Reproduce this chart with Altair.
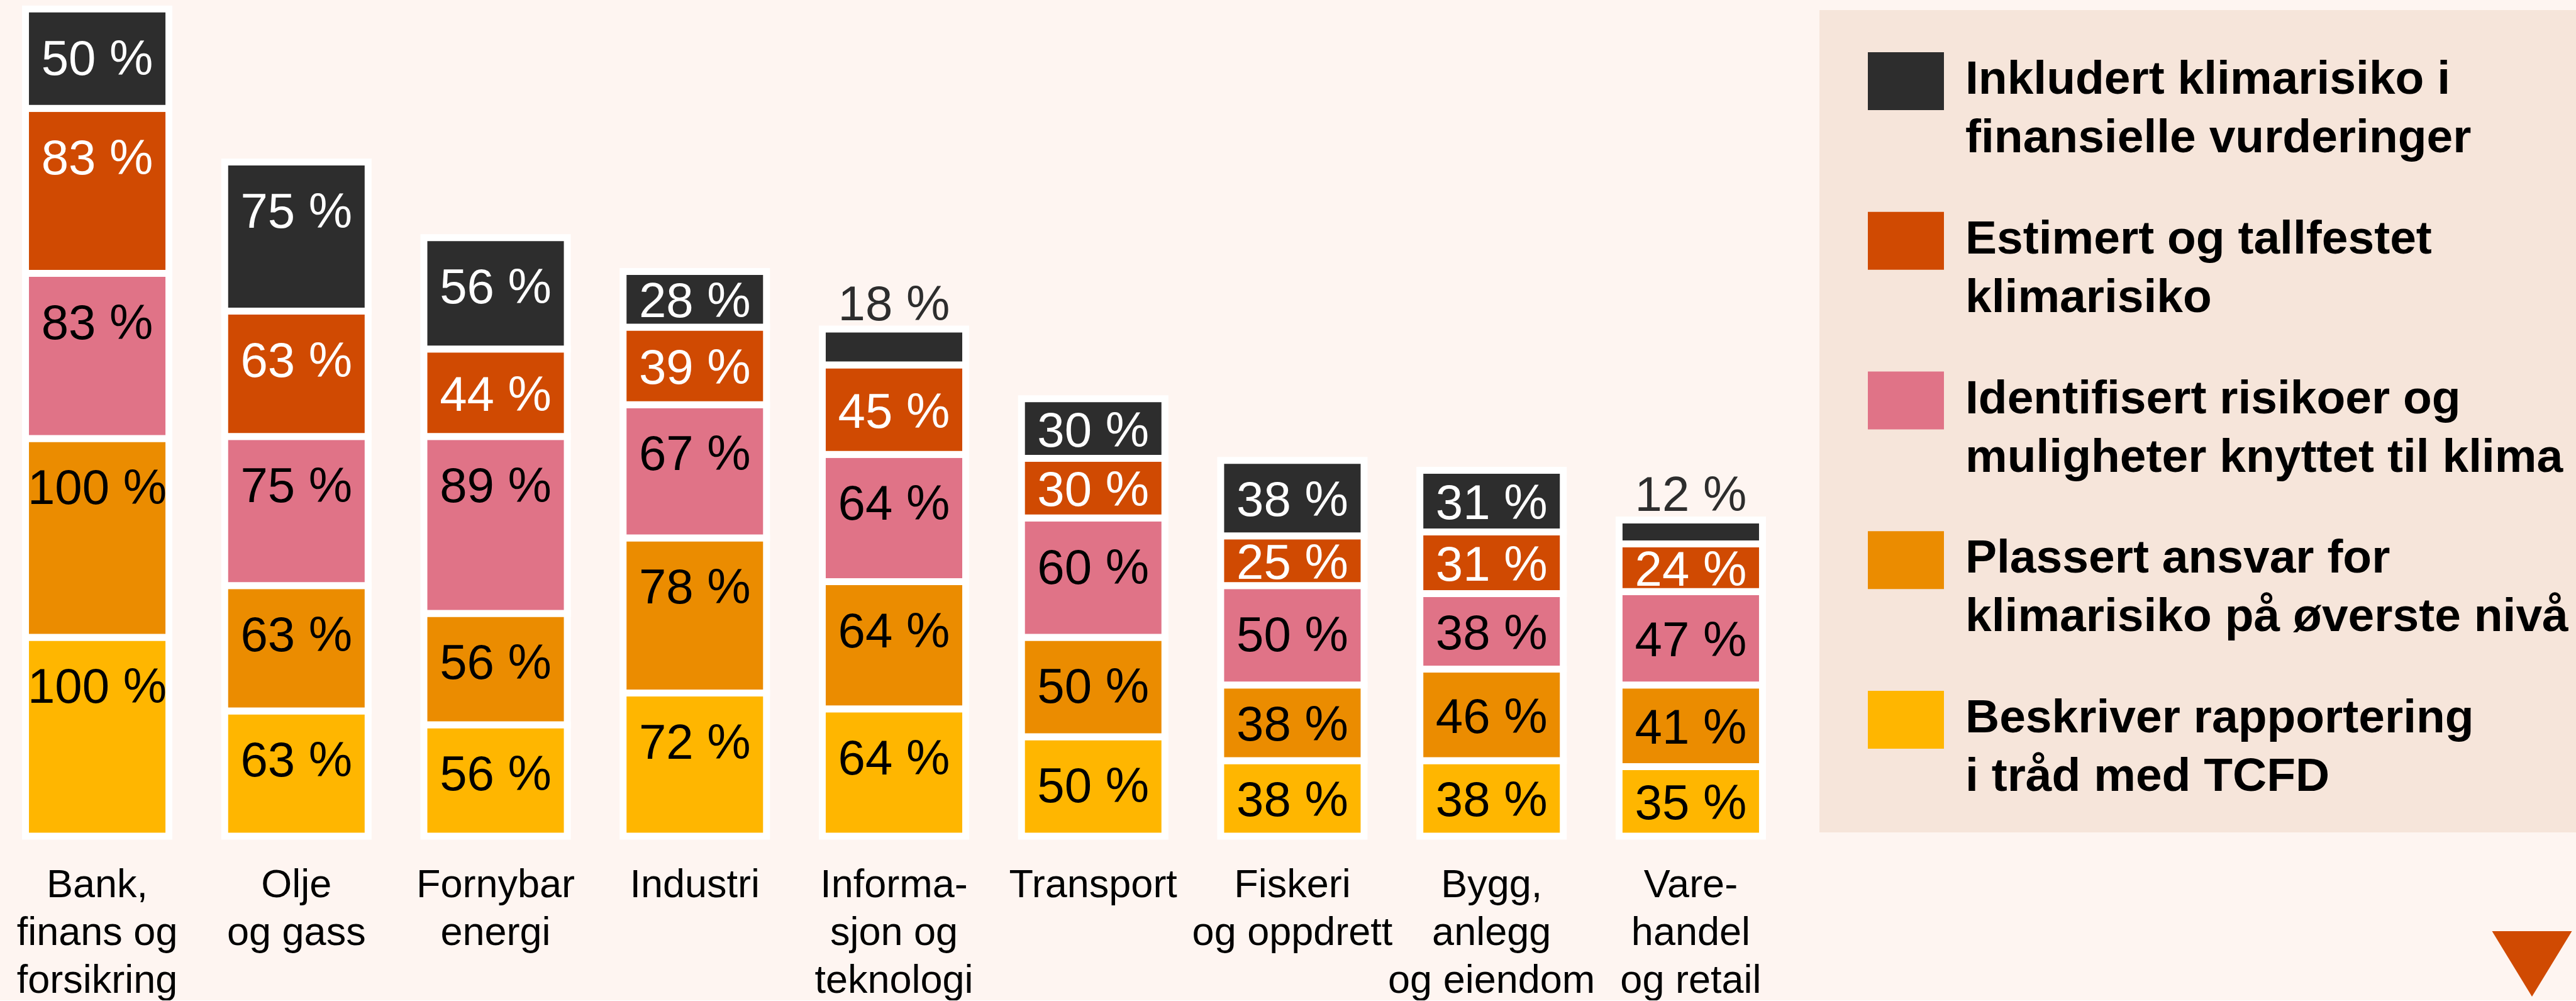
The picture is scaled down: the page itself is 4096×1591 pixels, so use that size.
import altair as alt
import pandas as pd

# ---------------- data ----------------
sectors = [
    "Bank,\nfinans og\nforsikring",
    "Olje\nog gass",
    "Fornybar\nenergi",
    "Industri",
    "Informa-\nsjon og\nteknologi",
    "Transport",
    "Fiskeri\nog oppdrett",
    "Bygg,\nanlegg\nog eiendom",
    "Vare-\nhandel\nog retail",
]

# stack order: bottom -> top
categories = [
    "Beskriver rapportering\ni tråd med TCFD",
    "Plassert ansvar for\nklimarisiko på øverste nivå",
    "Identifisert risikoer og\nmuligheter knyttet til klima",
    "Estimert og tallfestet\nklimarisiko",
    "Inkludert klimarisiko i\nfinansielle vurderinger",
]
colors = ["#FFB600", "#EB8C00", "#E07387", "#D04A02", "#2D2D2D"]

beskriver = [100, 63, 56, 72, 64, 50, 38, 38, 35]
plassert = [100, 63, 56, 78, 64, 50, 38, 46, 41]
identifisert = [83, 75, 89, 67, 64, 60, 50, 38, 47]
estimert = [83, 63, 44, 39, 45, 30, 25, 31, 24]
inkludert = [50, 75, 56, 28, 18, 30, 38, 31, 12]

series = [beskriver, plassert, identifisert, estimert, inkludert]

rows = []
for ci, (cat, vals) in enumerate(zip(categories, series)):
    for si, sec in enumerate(sectors):
        rows.append({"sector": sec, "category": cat, "order": ci, "value": vals[si]})
df = pd.DataFrame(rows)

legend_df = pd.DataFrame({"category": categories})

BG = "#FEF5F1"
PANEL = "#F6E5DA"
FONT = "Liberation Sans"

color_scale = alt.Scale(domain=categories, range=colors)
y_scale = alt.Scale(domain=[0, 420.5], nice=False, zero=True)
x_enc = alt.X(
    "sector:N",
    sort=sectors,
    scale=alt.Scale(paddingInner=0.28, paddingOuter=0.128),
    axis=alt.Axis(
        title=None,
        labelAngle=0,
        labelExpr="split(datum.label, '\\n')",
        labelFont=FONT,
        labelFontSize=63,
        labelColor="#000000",
        labelLineHeight=76,
        labelPadding=46,
        labelLimit=0,
        labelOverlap=False,
        ticks=False,
        domain=False,
        grid=False,
    ),
)

base = (
    alt.Chart(df)
    .transform_window(
        cum="sum(value)",
        groupby=["sector"],
        sort=[alt.SortField("order")],
        frame=[None, 0],
    )
    .transform_calculate(
        start="datum.cum - datum.value",
        ly="datum.value < 20 ? datum.cum + 4.5 : datum.cum - min(33, datum.value / 2 + 9)",
        lbl="datum.value + ' %'",
        tc="datum.value < 20 ? '#2D2D2D' : (datum.order >= 3 ? '#FFFFFF' : '#000000')",
    )
)

bars = base.mark_bar(stroke="#FFFFFF", strokeWidth=11).encode(
    x=x_enc,
    y=alt.Y("cum:Q", scale=y_scale, axis=None),
    y2="start:Q",
    color=alt.Color("category:N", scale=color_scale, legend=None),
)

labels = base.mark_text(
    font=FONT, fontSize=78, baseline="alphabetic", align="center"
).encode(
    x=alt.X("sector:N", sort=sectors),
    y=alt.Y("ly:Q", scale=y_scale, axis=None),
    text="lbl:N",
    color=alt.Color("tc:N", scale=None),
)

bar_chart = alt.layer(bars, labels).properties(width=2843, height=1329)

# ---------------- legend panel ----------------
leg_y = alt.Y(
    "category:N",
    scale=alt.Scale(domain=categories[::-1], range=[149, 1164], padding=0),
    axis=None,
)

panel = (
    alt.Chart(alt.Data(values=[{"p": 1}]))
    .mark_rect(color=PANEL)
    .encode(x=alt.value(0), x2=alt.value(1203), y=alt.value(16), y2=alt.value(1323))
)

swatches = (
    alt.Chart(legend_df)
    .mark_point(
        shape="M-1,-0.76H1V0.76H-1Z",
        filled=True,
        size=121 * 121,
        opacity=1,
        strokeWidth=0,
        yOffset=-20,
    )
    .encode(
        x=alt.value(137.5),
        y=leg_y,
        color=alt.Color("category:N", scale=color_scale, legend=None),
    )
)

leg_text = (
    alt.Chart(legend_df)
    .mark_text(
        align="left",
        baseline="alphabetic",
        font=FONT,
        fontWeight="bold",
        fontSize=75,
        lineHeight=93,
        lineBreak="\n",
        color="#000000",
    )
    .encode(x=alt.value(232), y=leg_y, text="category:N")
)

triangle = (
    alt.Chart(alt.Data(values=[{"p": 1}]))
    .mark_point(
        shape="M-1,-0.82L1,-0.82L0,0.82Z",
        filled=True,
        size=127 * 127,
        opacity=1,
        color="#D04A02",
        strokeWidth=0,
    )
    .encode(x=alt.value(1133), y=alt.value(1532))
)

legend_chart = alt.layer(panel, swatches, leg_text, triangle).properties(
    width=1203, height=1329
)

chart = (
    alt.hconcat(bar_chart, legend_chart, spacing=50)
    .properties(padding=0, background=BG)
    .configure_view(stroke=None)
)

chart.save("out.html", embed_options={"renderer": "svg", "actions": False})
